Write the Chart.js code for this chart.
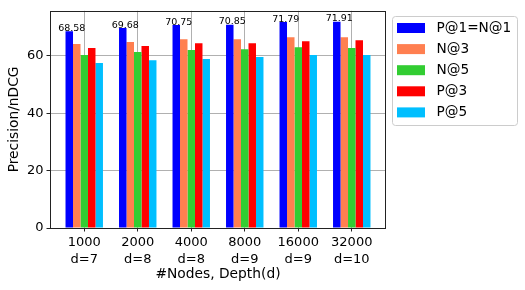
<!DOCTYPE html>
<html>
<head>
<meta charset="utf-8">
<script src="https://cdn.jsdelivr.net/npm/chart.js@4.4.1/dist/chart.umd.min.js"></script>
<style>
html,body{margin:0;padding:0;background:#fff;}
#wrap{width:525px;height:290px;position:relative;}
</style>
</head>
<body>
<div id="wrap"><canvas id="c" width="525" height="290"></canvas></div>
<script>
const nodes = ['1000', '2000', '4000', '8000', '16000', '32000'];
const depths = ['d=7', 'd=8', 'd=8', 'd=9', 'd=9', 'd=10'];
const seriesNames = ['P@1=N@1', 'N@3', 'N@5', 'P@3', 'P@5'];
const p1 = [68.58, 69.68, 70.75, 70.85, 71.79, 71.91];
const n3 = [64.1, 64.8, 65.8, 65.8, 66.5, 66.5];
const n5 = [60.3, 61.3, 62.0, 62.3, 63.0, 62.7];
const p3 = [62.7, 63.4, 64.4, 64.4, 65.1, 65.4];
const p5 = [57.5, 58.5, 58.9, 59.6, 60.3, 60.3];
const yTicks = [0, 20, 40, 60];
const colors = ['#0000ff', '#ff7f50', '#32cd32', '#ff0000', '#00bfff'];

const allSeries = [p1, n3, n5, p3, p5];
const FONT = 'DejaVu Sans';

const datasets = allSeries.map((vals, k) => ({
  label: seriesNames[k],
  data: vals.map((v, i) => ({x: i, y: v})),
  backgroundColor: colors[k],
  borderWidth: 0,
  categoryPercentage: 0.7,
  barPercentage: 1.0
}));

const framePlugin = {
  id: 'frame',
  afterDraw(chart) {
    const {ctx, chartArea: a} = chart;
    ctx.save();
    // value labels above first series
    const meta = chart.getDatasetMeta(0);
    ctx.font = '9.5px "' + FONT + '"';
    ctx.fillStyle = '#000';
    ctx.textAlign = 'center';
    ctx.textBaseline = 'alphabetic';
    meta.data.forEach((bar, i) => {
      ctx.fillText(p1[i].toFixed(2), bar.x + 2.5, bar.y - 0.5);
    });
    // frame
    ctx.strokeStyle = '#222';
    ctx.lineWidth = 1;
    ctx.strokeRect(Math.round(a.left) + 0.5, Math.round(a.top) + 0.5,
                   Math.round(a.right - a.left) - 1, Math.round(a.bottom - a.top));
    // legend
    const lx = 392.5, ly = 16.5, lw = 125, lh = 109, r = 3;
    ctx.fillStyle = 'rgba(255,255,255,0.8)';
    ctx.strokeStyle = '#cccccc';
    ctx.beginPath();
    ctx.moveTo(lx + r, ly);
    ctx.lineTo(lx + lw - r, ly);
    ctx.quadraticCurveTo(lx + lw, ly, lx + lw, ly + r);
    ctx.lineTo(lx + lw, ly + lh - r);
    ctx.quadraticCurveTo(lx + lw, ly + lh, lx + lw - r, ly + lh);
    ctx.lineTo(lx + r, ly + lh);
    ctx.quadraticCurveTo(lx, ly + lh, lx, ly + lh - r);
    ctx.lineTo(lx, ly + r);
    ctx.quadraticCurveTo(lx, ly, lx + r, ly);
    ctx.closePath();
    ctx.fill();
    ctx.stroke();
    ctx.font = '13.7px "' + FONT + '"';
    ctx.textAlign = 'left';
    ctx.textBaseline = 'middle';
    seriesNames.forEach((name, k) => {
      const cy = 28 + k * 21.1;
      ctx.fillStyle = colors[k];
      ctx.fillRect(397, cy - 5, 28, 10);
      ctx.fillStyle = '#000';
      ctx.fillText(name, 436.5, cy + 0.5);
    });
    ctx.restore();
  }
};

new Chart(document.getElementById('c'), {
  type: 'bar',
  data: {datasets},
  options: {
    responsive: false,
    animation: false,
    events: [],
    layout: {padding: {left: 0, top: 10, right: 139, bottom: 0}},
    plugins: {legend: {display: false}, tooltip: {enabled: false}},
    scales: {
      x: {
        type: 'linear',
        min: -0.64,
        max: 5.64,
        offset: false,
        z: 1,
        afterFit(s) { s.height = 62; },
        afterBuildTicks(s) { s.ticks = nodes.map((_, i) => ({value: i})); },
        grid: {offset: false, color: '#b0b0b0', lineWidth: 1, tickLength: 3.5, tickColor: '#222', drawTicks: true},
        border: {display: false},
        ticks: {
          autoSkip: false,
          maxRotation: 0,
          padding: 3,
          color: '#000',
          font: {family: FONT, size: 13, lineHeight: 1.27},
          callback: (v) => [nodes[v], depths[v]]
        },
        title: {display: true, text: '#Nodes, Depth(d)', color: '#000',
                font: {family: FONT, size: 13.8}, padding: {top: 0, bottom: 7}}
      },
      y: {
        type: 'linear',
        min: 0,
        max: 75.7,
        z: 1,
        afterFit(s) { s.width = 50; },
        afterBuildTicks(s) { s.ticks = yTicks.map(v => ({value: v})); },
        grid: {color: '#b0b0b0', lineWidth: 1, tickLength: 3.5, tickColor: '#222'},
        border: {display: false},
        ticks: {padding: 3, color: '#000', font: {family: FONT, size: 13}},
        title: {display: true, text: 'Precision/nDCG', color: '#000',
                font: {family: FONT, size: 13.8}, padding: {top: 6, bottom: 0}}
      }
    }
  },
  plugins: [framePlugin]
});
</script>
</body>
</html>
